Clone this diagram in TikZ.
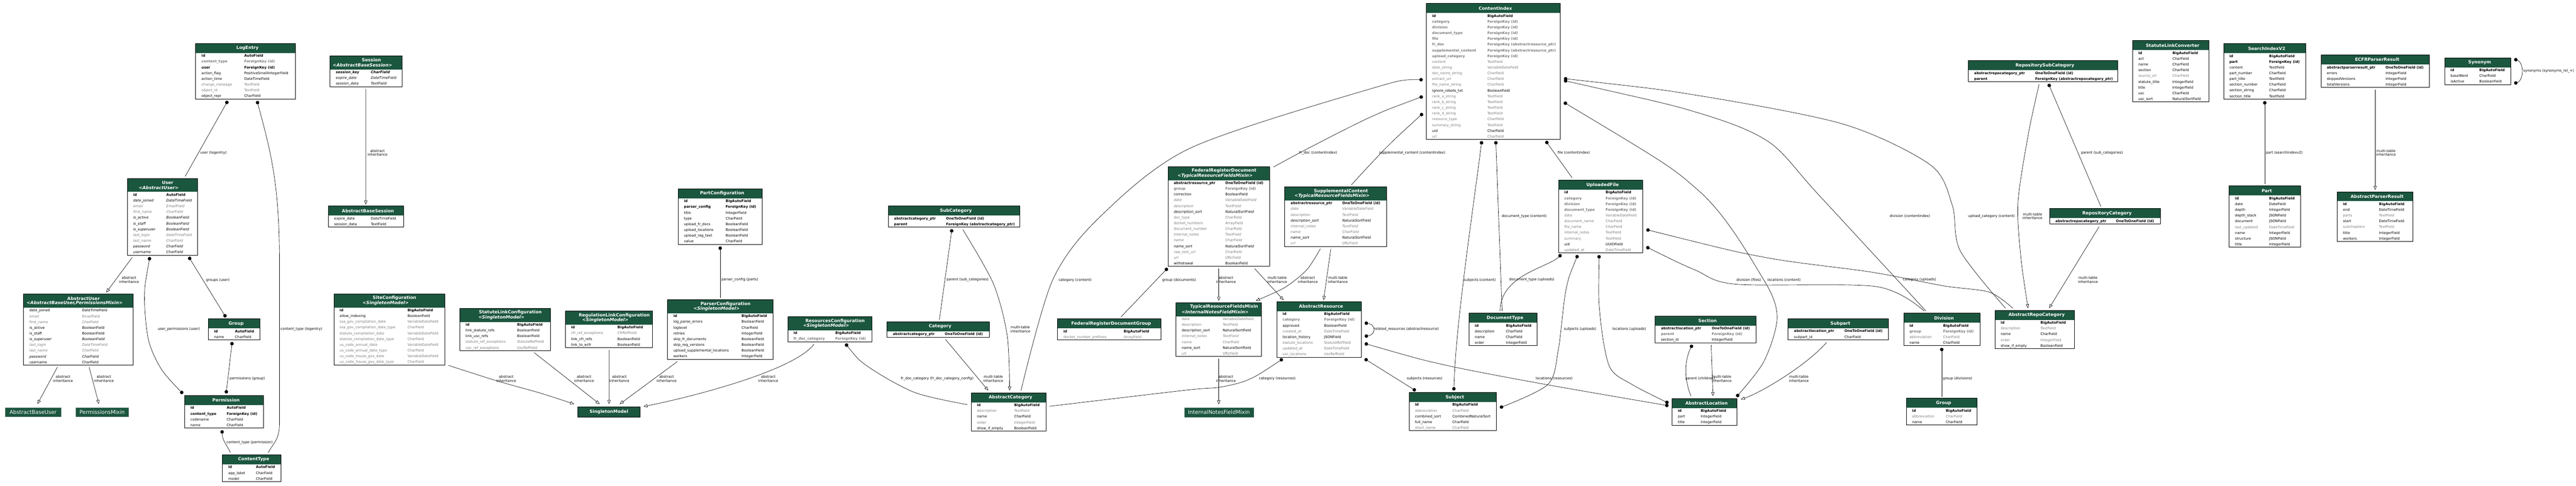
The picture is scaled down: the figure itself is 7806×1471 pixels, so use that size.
\documentclass[tikz,border=0pt]{standalone}
\usepackage{fontspec}
\setmainfont{DejaVu Sans}
\usetikzlibrary{arrows.meta}

\definecolor{hdr}{HTML}{1B563F}
\definecolor{grayf}{HTML}{7B7B7B}
\newcommand{\fieldfont}{\fontsize{10.67}{12}\selectfont}
\newcommand{\headfont}{\fontsize{13.33}{16}\selectfont}
\newcommand{\boxfont}{\fontsize{16}{19}\selectfont}

\tikzset{
  fld/.style={inner sep=0pt, anchor=base west, font=\fieldfont},
  fr/.style={fld},
  fb/.style={fld, font=\fieldfont\bfseries},
  fg/.style={fld, text=grayf},
  fbg/.style={fld, font=\fieldfont\bfseries, text=grayf},
  fi/.style={fld, font=\fieldfont\itshape},
  fig/.style={fld, font=\fieldfont\itshape, text=grayf},
  fbi/.style={fld, font=\fieldfont\bfseries\itshape},
  ttl/.style={inner sep=0pt, text=white, font=\headfont\bfseries},
  tbl/.style={draw=black, line width=1.2pt, inner sep=0pt, outer sep=0pt},
  plainbox/.style={fill=hdr, draw=hdr!60!gray, text=white, font=\boxfont, inner sep=0pt, anchor=north west},
  conn/.style={draw=black, line width=1pt},
  fk/.style={conn, arrows={Circle[length=10.5pt]-}},
  mm/.style={conn, arrows={Circle[length=10.5pt]-Circle[length=10.5pt]}},
  inh/.style={conn, arrows={-Triangle[open, length=12pt, width=9.5pt]}},
  lbl/.style={inner sep=0pt, anchor=west, font=\fieldfont},
  inhl/.style={inner sep=0pt, align=center, font=\fieldfont},
}

% #1 name, #2 x, #3 y, #4 width, #5 type column, #6 title, #7 base, #8 fields
\newcommand{\model}[8]{%
  \def\hh{29}\def\mbase{#7}%
  \ifx\mbase\empty\else\def\hh{41}\fi
  \fill[hdr] (#2,#3) rectangle ++(#4,\hh);
  \ifx\mbase\empty
    \node[ttl] (#1-title) at (#2+#4/2+6,#3+14.5) {#6};
  \else
    \node[ttl] (#1-title) at (#2+#4/2+16,#3+13) {#6};
    \node[ttl, font=\headfont\bfseries\itshape] (#1-base) at (#2+#4/2-11,#3+27.5) {<#7>};
  \fi
  \foreach \fname/\ftype/\fst [count=\n] in {#8}{%
    \node[\fst] (#1-f\n) at (#2+17.5,#3+\hh+\n*17.4-5) {\fname};
    \node[\fst] (#1-t\n) at (#2+#5,#3+\hh+\n*17.4-5) {\ftype};
    \xdef\nrows{\n}}%
  \node[tbl, minimum width=#4pt, minimum height={(\hh+\nrows*17.4)*1pt}, anchor=north west] (#1) at (#2,#3) {};
}

\begin{document}
\begin{tikzpicture}[x=1pt, y=-1pt]
  \useasboundingbox (0,0) rectangle (7806,1471);

  %auth
  \model{le}{593}{131.5}{302}{147}{LogEntry}{}{id/AutoField/fb, content\_type/ForeignKey (id)/fbg, user/ForeignKey (id)/fb, action\_flag/PositiveSmallIntegerField/fr, action\_time/DateTimeField/fr, change\_message/TextField/fg, object\_id/TextField/fg, object\_repr/CharField/fr}
  \model{user}{386}{540.5}{212}{118}{User}{AbstractUser}{id/AutoField/fb, date\_joined/DateTimeField/fi, email/EmailField/fig, first\_name/CharField/fig, is\_active/BooleanField/fi, is\_staff/BooleanField/fi, is\_superuser/BooleanField/fi, last\_login/DateTimeField/fig, last\_name/CharField/fig, password/CharField/fi, username/CharField/fi}
  \model{au}{71.5}{891}{331.5}{177}{AbstractUser}{AbstractBaseUser,PermissionsMixin}{date\_joined/DateTimeField/fr, email/EmailField/fg, first\_name/CharField/fg, is\_active/BooleanField/fr, is\_staff/BooleanField/fr, is\_superuser/BooleanField/fi, last\_login/DateTimeField/fig, last\_name/CharField/fg, password/CharField/fi, username/CharField/fr}
  \model{grp}{631}{966}{157}{81}{Group}{}{id/AutoField/fb, name/CharField/fr}
  \model{perm}{559.3}{1198}{239}{127.6}{Permission}{}{id/AutoField/fb, content\_type/ForeignKey (id)/fb, codename/CharField/fr, name/CharField/fr}
  \model{ct}{674}{1377.6}{177.4}{101.5}{ContentType}{}{id/AutoField/fb, app\_label/CharField/fr, model/CharField/fr}
  \node[plainbox, minimum width=168pt, minimum height=27.5pt] (abu) at (16,1234.5) {AbstractBaseUser};
  \node[plainbox, minimum width=159.4pt, minimum height=27.5pt] (pm) at (229.6,1234.5) {PermissionsMixin};

  %sessions
  \model{ses}{1000}{169}{219}{123.7}{Session}{AbstractBaseSession}{session\_key/CharField/fbi, expire\_date/DateTimeField/fi, session\_data/TextField/fi}
  \model{abs}{995}{624}{228}{128.7}{AbstractBaseSession}{}{expire\_date/DateTimeField/fr, session\_data/TextField/fr}

  %configuration
  \model{site}{1011.5}{890.4}{336}{223.2}{SiteConfiguration}{SingletonModel}{id/BigAutoField/fb, allow\_indexing/BooleanField/fr, ssa\_gov\_compilation\_date/VariableDateField/fg, ssa\_gov\_compilation\_date\_type/CharField/fg, statute\_compilation\_date/VariableDateField/fg, statute\_compilation\_date\_type/CharField/fg, us\_code\_annual\_date/VariableDateField/fg, us\_code\_annual\_date\_type/CharField/fg, us\_code\_house\_gov\_date/VariableDateField/fg, us\_code\_house\_gov\_date\_type/CharField/fg}
  \model{slc}{1393.5}{934}{274}{173.5}{StatuteLinkConfiguration}{SingletonModel}{id/BigAutoField/fb, link\_statute\_refs/BooleanField/fr, link\_usc\_refs/BooleanField/fr, statute\_ref\_exceptions/StatuteRefField/fg, usc\_ref\_exceptions/UscRefField/fg}
  \model{rlc}{1713}{942.2}{264.7}{158.2}{RegulationLinkConfiguration}{SingletonModel}{id/BigAutoField/fb, cfr\_ref\_exceptions/CfrRefField/fg, link\_cfr\_refs/BooleanField/fr, link\_to\_ecfr/BooleanField/fr}
  \node[tbl, fill=hdr, text=white, font=\headfont\bfseries, minimum width=189pt, minimum height=31pt, anchor=north west] (sm) at (1750.6,1232.5) {SingletonModel};
  \model{partc}{2055}{571.7}{255}{143.8}{PartConfiguration}{}{id/BigAutoField/fb, parser\_config/ForeignKey (id)/fb, title/IntegerField/fr, type/CharField/fr, upload\_fr\_docs/BooleanField/fr, upload\_locations/BooleanField/fr, upload\_reg\_text/BooleanField/fr, value/CharField/fr}
  \model{parserc}{2023}{908}{319}{224}{ParserConfiguration}{SingletonModel}{id/BigAutoField/fb, log\_parse\_errors/BooleanField/fr, loglevel/CharField/fr, retries/IntegerField/fr, skip\_fr\_documents/BooleanField/fr, skip\_reg\_versions/BooleanField/fr, upload\_supplemental\_locations/BooleanField/fr, workers/IntegerField/fr}
  \model{resc}{2387}{959.4}{255}{144}{ResourcesConfiguration}{SingletonModel}{id/BigAutoField/fb, fr\_doc\_category/ForeignKey (id)/fbg}

  %categories
  \model{subcat}{2691.6}{623.7}{398}{175.3}{SubCategory}{}{abstractcategory\_ptr/OneToOneField (id)/fb, parent/ForeignKey (abstractcategory\_ptr)/fb}
  \model{cat}{2688}{974.6}{309.5}{174.9}{Category}{}{abstractcategory\_ptr/OneToOneField (id)/fb}
  \model{acat}{2942.8}{1189.8}{226.7}{130.2}{AbstractCategory}{}{id/BigAutoField/fb, description/TextField/fg, name/CharField/fr, order/IntegerField/fg, show\_if\_empty/BooleanField/fr}

  %resources
  \model{frd}{3539.2}{504.7}{308}{173.8}{FederalRegisterDocument}{TypicalResourceFieldsMixin}{abstractresource\_ptr/OneToOneField (id)/fb, group/ForeignKey (id)/fbg, correction/BooleanField/fr, date/VariableDateField/fig, description/TextField/fig, description\_sort/NaturalSortField/fi, doc\_type/CharField/fg, docket\_numbers/ArrayField/fg, document\_number/CharField/fg, internal\_notes/TextField/fig, name/CharField/fig, name\_sort/NaturalSortField/fi, raw\_text\_url/CharField/fg, url/URLField/fig, withdrawal/BooleanField/fr}
  \model{supp}{3893.4}{566}{308}{173.8}{SupplementalContent}{TypicalResourceFieldsMixin}{abstractresource\_ptr/OneToOneField (id)/fb, date/VariableDateField/fig, description/TextField/fig, description\_sort/NaturalSortField/fi, internal\_notes/TextField/fig, name/CharField/fig, name\_sort/NaturalSortField/fi, url/URLField/fig}
  \model{trfm}{3563.4}{916.8}{259.6}{141.6}{TypicalResourceFieldsMixin}{InternalNotesFieldMixin}{date/VariableDateField/fg, description/TextField/fg, description\_sort/NaturalSortField/fr, internal\_notes/TextField/fig, name/CharField/fg, name\_sort/NaturalSortField/fr, url/URLField/fg}
  \model{ares}{3869.2}{913.8}{256}{143}{AbstractResource}{}{id/BigAutoField/fb, category/ForeignKey (id)/fbg, approved/BooleanField/fr, created\_at/DateTimeField/fg, location\_history/JSONField/fr, statute\_locations/StatuteRefField/fg, updated\_at/DateTimeField/fg, usc\_locations/UscRefField/fg}
  \model{frdg}{3204.7}{965.8}{313.2}{200.3}{FederalRegisterDocumentGroup}{}{id/BigAutoField/fb, docket\_number\_prefixes/ArrayField/fg}
  \node[plainbox, minimum width=209pt, minimum height=28pt] (inm) at (3589,1234.7) {InternalNotesFieldMixin};

  %content
  \model{ci}{4322.2}{10.5}{406.2}{184.8}{ContentIndex}{}{id/BigAutoField/fb, category/ForeignKey (id)/fbg, division/ForeignKey (id)/fbg, document\_type/ForeignKey (id)/fbg, file/ForeignKey (id)/fbg, fr\_doc/ForeignKey (abstractresource\_ptr)/fbg, supplemental\_content/ForeignKey (abstractresource\_ptr)/fbg, upload\_category/ForeignKey (id)/fbg, content/TextField/fg, date\_string/VariableDateField/fg, doc\_name\_string/CharField/fg, extract\_url/CharField/fg, file\_name\_string/CharField/fg, ignore\_robots\_txt/BooleanField/fr, rank\_a\_string/TextField/fg, rank\_b\_string/TextField/fg, rank\_c\_string/TextField/fg, rank\_d\_string/TextField/fg, resource\_type/CharField/fg, summary\_string/TextField/fg, uid/CharField/fr, url/CharField/fg}
  \model{uf}{4722.7}{545.5}{255}{142.9}{UploadedFile}{}{id/BigAutoField/fb, category/ForeignKey (id)/fbg, division/ForeignKey (id)/fbg, document\_type/ForeignKey (id)/fbg, date/VariableDateField/fg, document\_name/CharField/fg, file\_name/CharField/fg, internal\_notes/TextField/fg, summary/TextField/fg, uid/UUIDField/fr, updated\_at/DateTimeField/fg}
  \model{dt}{4451.5}{948.7}{206}{111.8}{DocumentType}{}{id/BigAutoField/fb, description/CharField/fr, name/CharField/fr, order/IntegerField/fr}
  \model{subj}{4270.2}{1188.7}{264.8}{130.8}{Subject}{}{id/BigAutoField/fb, abbreviation/CharField/fg, combined\_sort/CombinedNaturalSort/fr, full\_name/CharField/fr, short\_name/CharField/fg}
  \model{sec}{5015.6}{957}{305.4}{171.4}{Section}{}{abstractlocation\_ptr/OneToOneField (id)/fb, parent/ForeignKey (id)/fbg, section\_id/IntegerField/fr}
  \model{aloc}{5066.8}{1207}{196.7}{86.5}{AbstractLocation}{}{id/BigAutoField/fb, part/IntegerField/fr, title/IntegerField/fr}
  \model{subp}{5418.6}{965.5}{304.4}{170.4}{Subpart}{}{abstractlocation\_ptr/OneToOneField (id)/fb, subpart\_id/CharField/fr}
  \model{div}{5768.5}{948.6}{232.4}{119.5}{Division}{}{id/BigAutoField/fb, group/ForeignKey (id)/fbg, abbreviation/CharField/fg, name/CharField/fr}
  \model{rgrp}{5776.5}{1206}{214.5}{119.5}{Group}{}{id/BigAutoField/fb, abbreviation/CharField/fg, name/CharField/fr}
  \model{arc}{6045}{940}{241}{138}{AbstractRepoCategory}{}{id/BigAutoField/fb, description/TextField/fg, name/CharField/fr, order/IntegerField/fg, show\_if\_empty/BooleanField/fr}
  \model{rsc}{5964.6}{183.7}{452}{202.4}{RepositorySubCategory}{}{abstractrepocategory\_ptr/OneToOneField (id)/fb, parent/ForeignKey (abstractrepocategory\_ptr)/fb}
  \model{rc}{6211}{631.9}{335.6}{200.9}{RepositoryCategory}{}{abstractrepocategory\_ptr/OneToOneField (id)/fb}

  %regcore
  \model{slconv}{6462}{123}{231.2}{121}{StatuteLinkConverter}{}{id/BigAutoField/fb, act/CharField/fr, name/CharField/fr, section/CharField/fr, source\_url/CharField/fg, statute\_title/IntegerField/fr, title/IntegerField/fr, usc/CharField/fr, usc\_sort/NaturalSortField/fr}
  \model{siv2}{6738}{132}{249.3}{138}{SearchIndexV2}{}{id/BigAutoField/fb, part/ForeignKey (id)/fb, content/TextField/fr, part\_number/CharField/fr, part\_title/TextField/fr, section\_number/CharField/fr, section\_string/CharField/fr, section\_title/TextField/fr}
  \model{ecfr}{7033}{166.3}{329.2}{195.6}{ECFRParserResult}{}{abstractparserresult\_ptr/OneToOneField (id)/fb, errors/IntegerField/fr, skippedVersions/IntegerField/fr, totalVersions/IntegerField/fr}
  \model{syn}{7408}{175}{200}{104.8}{Synonym}{}{id/BigAutoField/fb, baseWord/CharField/fr, isActive/BooleanField/fr}
  \model{part}{6755}{563.3}{216.2}{121}{Part}{}{id/BigAutoField/fb, date/DateField/fr, depth/IntegerField/fr, depth\_stack/JSONField/fr, document/JSONField/fr, last\_updated/DateTimeField/fg, name/IntegerField/fr, structure/JSONField/fr, title/IntegerField/fr}
  \model{apr}{7082.4}{580.6}{229.6}{126.4}{AbstractParserResult}{}{id/BigAutoField/fb, end/DateTimeField/fr, parts/TextField/fg, start/DateTimeField/fr, subchapters/TextField/fg, title/IntegerField/fr, workers/IntegerField/fr}

  %auth edges
  \draw[fk] ([shift={(97,6)}]le.south west) -- ([shift={(175,-6)}]user.north west);
  \draw[fk] ([shift={(186,6)}]le.south west) .. controls +(40,150) and +(0,-250) .. (847,800) -- (847,1280) .. controls +(0,50) and +(20,-35) .. ([shift={(138.5,-6)}]ct.north west);
  \draw[inh] ([shift={(14.5,7)}]user.south west) -- ([shift={(250.5,-5)}]au.north west);
  \draw[mm] plot[smooth] coordinates {([shift={(68,5.5)}]user.south west) (438,900) (450,1030) (490,1120) ([shift={(-5,-5.5)}]perm.north west)};
  \draw[mm] ([shift={(186,5.5)}]user.south west) -- ([shift={(53.5,-5)}]grp.north west);
  \draw[mm] ([shift={(72.5,6)}]grp.south west) -- ([shift={(126,-6)}]perm.north west);
  \draw[fk] ([shift={(113.7,6.5)}]perm.south west) .. controls +(0,30) and +(-12,-25) .. ([shift={(24.3,-6.6)}]ct.north west);
  \draw[inh] ([shift={(102.5,6)}]au.south west) -- ([shift={(97.5,-10.8)}]abu.north west);
  \draw[inh] ([shift={(198.5,6)}]au.south west) -- ([shift={(70,-10.8)}]pm.north west);
  \node[lbl] (l-le-user) at (607,463) {user (logentry)};
  \node[lbl] (l-le-ct) at (850,997) {content\_type (logentry)};
  \node[inhl] (l-user-au) at (391,848) {abstract\\inheritance};
  \node[lbl] (l-user-perm) at (478,997) {user\_permissions (user)};
  \node[lbl] (l-user-grp) at (624,848) {groups (user)};
  \node[lbl] (l-grp-perm) at (696,1147) {permissions (group)};
  \node[lbl] (l-perm-ct) at (686,1341) {content\_type (permission)};
  \node[inhl] (l-au-abu) at (191,1147) {abstract\\inheritance};
  \node[inhl] (l-au-pm) at (315,1147) {abstract\\inheritance};

  %session edges
  \draw[inh] ([shift={(-1,7)}]ses.south) -- ([shift={(113.4,-4)}]abs.north west);
  \node[inhl] (l-ses-abs) at (1144,463) {abstract\\inheritance};

  %configuration edges
  \draw[inh] plot[smooth] coordinates {([shift={(11.5,1.5)}]site.south east) (1510,1155) (1638,1191) ([shift={(-10.8,-8.5)}]sm.north west)};
  \draw[inh] ([shift={(225,6)}]slc.south west) -- ([shift={(66.4,-8.5)}]sm.north west);
  \draw[inh] ([shift={(132.7,7)}]rlc.south west) -- ([shift={(95,-8.5)}]sm.north west);
  \draw[inh] ([shift={(29.6,7)}]parserc.south west) -- ([shift={(127.4,-8.5)}]sm.north west);
  \draw[inh] ([shift={(79.5,7.5)}]resc.south west) .. controls +(-60,80) and +(150,-30) .. ([shift={(10.4,-1)}]sm.north east);
  \draw[fk] ([shift={(127.4,6.6)}]partc.south west) -- ([shift={(159.4,-5.6)}]parserc.north west);
  \draw[fk] plot[smooth] coordinates {([shift={(175,6)}]resc.south west) (2631,1111) (2772,1189) ([shift={(-11,36)}]acat.north west)};
  \node[inhl] (l-site-sm) at (1534,1147) {abstract\\inheritance};
  \node[inhl] (l-slc-sm) at (1770,1147) {abstract\\inheritance};
  \node[inhl] (l-rlc-sm) at (1877,1147) {abstract\\inheritance};
  \node[inhl] (l-parserc-sm) at (2020,1147) {abstract\\inheritance};
  \node[inhl] (l-resc-sm) at (2328,1147) {abstract\\inheritance};
  \node[lbl] (l-partc-parserc) at (2186,848) {parser\_config (parts)};
  \node[lbl] (l-resc-acat) at (2729.6,1147) {fr\_doc\_category (fr\_doc\_category\_config)};

  %category edges
  \draw[fk] ([shift={(193,6.5)}]subcat.south west) -- ([shift={(158.7,-6.8)}]cat.north west);
  \draw[inh] plot[smooth] coordinates {([shift={(226,8)}]subcat.south west) (3010,859) (3052,1016) ([shift={(116.5,-6.8)}]acat.north west)};
  \draw[inh] ([shift={(177,7)}]cat.south west) -- ([shift={(52,-6.8)}]acat.north west);
  \node[lbl] (l-subcat-cat) at (2868.5,848) {parent (sub\_categories)};
  \node[inhl] (l-subcat-acat) at (3092,997) {multi-table\\inheritance};
  \node[inhl] (l-cat-acat) at (3010,1147) {multi-table\\inheritance};

  %resource edges
  \draw[fk] ([shift={(-1,5.5)}]frd.south west) -- ([shift={(192.3,-5.8)}]frdg.north west);
  \draw[inh] ([shift={(154,6.8)}]frd.south west) -- ([shift={(129.8,-5.8)}]trfm.north west);
  \draw[inh] ([shift={(262.5,6.8)}]frd.south west) -- ([shift={(20.5,-4.6)}]ares.north west);
  \draw[inh] plot[smooth] coordinates {([shift={(107.6,7.3)}]supp.south west) (3960,817) (3893,871) ([shift={(242,-5.8)}]trfm.north west)};
  \draw[inh] ([shift={(139.4,7.3)}]supp.south west) -- ([shift={(141.6,-4.6)}]ares.north west);
  \draw[inh] ([shift={(129.8,7)}]trfm.south west) -- ([shift={(104.2,-9.7)}]inm.north west);
  \draw[fk] plot[smooth] coordinates {([shift={(18,5)}]ares.south west) (3783,1150) (3695,1173) (3593,1182) ([shift={(10.3,41)}]acat.north east)};
  \draw[mm] ([shift={(10,64.5)}]ares.north east) .. controls +(35,5) and +(35,-5) .. ([shift={(10,105)}]ares.north east);
  \draw[mm] ([shift={(10,173)}]ares.north east) -- ([shift={(20,-5)}]subj.north west);
  \draw[mm] plot[smooth] coordinates {([shift={(10,126.7)}]ares.north east) (4380,1106) (4686,1165) ([shift={(-10.8,22)}]aloc.north west)};
  \node[lbl] (l-frd-frdg) at (3521.6,848) {group (documents)};
  \node[inhl] (l-frd-trfm) at (3715,848) {abstract\\inheritance};
  \node[inhl] (l-frd-ares) at (3870,848) {multi-table\\inheritance};
  \node[inhl] (l-supp-trfm) at (3963,848) {abstract\\inheritance};
  \node[inhl] (l-supp-ares) at (4054,848) {multi-table\\inheritance};
  \node[inhl] (l-trfm-inm) at (3715,1147) {abstract\\inheritance};
  \node[lbl] (l-ares-acat) at (3815,1147) {category (resources)};
  \node[lbl] (l-ares-ares) at (4163,997.3) {related\_resources (abstractresource)};
  \node[lbl] (l-ares-subj) at (4263,1147) {subjects (resources)};
  \node[lbl] (l-ares-aloc) at (4653.6,1147) {locations (resources)};

  %content index edges
  \draw[fk] plot[smooth] coordinates {([shift={(-10.7,231)}]ci.north west) (4150,270) (3604,450) (3330,660) (3189,850) ([shift={(151,-6.5)}]acat.north west)};
  \draw[fk] plot[smooth] coordinates {([shift={(-10.7,281.5)}]ci.north west) (4150,356) (3963,450) ([shift={(11.8,1.3)}]frd.north east)};
  \draw[fk] plot[smooth] coordinates {([shift={(-10.7,333)}]ci.north west) (4200,448) ([shift={(201.6,-6)}]supp.north west)};
  \draw[mm] ([shift={(167.8,5)}]ci.south west) .. controls +(-25,200) and +(5,-200) .. ([shift={(135.3,-5.7)}]subj.north west);
  \draw[fk] ([shift={(210.5,5)}]ci.south west) -- ([shift={(100.3,-6.2)}]dt.north west);
  \draw[fk] ([shift={(362,5)}]ci.south west) -- ([shift={(41.3,-6.8)}]uf.north west);
  \draw[fk] plot[smooth] coordinates {([shift={(10.6,227.5)}]ci.north east) (5150,290) (5589,377) (5850,500) (5916,622) (5940,760) ([shift={(32,-6.5)}]arc.north west)};
  \draw[fk] plot[smooth] coordinates {([shift={(10.6,233.5)}]ci.north east) (5150,343) (5360,430) (5509,588) ([shift={(67.5,-6.6)}]div.north west)};
  \draw[mm] plot[smooth] coordinates {([shift={(10.6,299.5)}]ci.north east) (5150,580) (5340,840) (5385,960) (5345,1095) ([shift={(-1.5,-5)}]aloc.north east)};
  \node[lbl] (l-ci-acat) at (3207.7,848) {category (content)};
  \node[lbl] (l-ci-frd) at (3937,463) {fr\_doc (contentindex)};
  \node[lbl] (l-ci-supp) at (4178.7,463) {supplemental\_content (contentindex)};
  \node[lbl] (l-ci-subj) at (4435.5,848) {subjects (content)};
  \node[lbl] (l-ci-dt) at (4550.5,655) {document\_type (content)};
  \node[lbl] (l-ci-uf) at (4719.5,463) {file (contentindex)};
  \node[lbl] (l-ci-arc) at (5963.8,654.6) {upload\_category (content)};
  \node[lbl] (l-ci-div) at (5726,654.6) {division (contentindex)};
  \node[lbl] (l-ci-aloc) at (5355.6,847.5) {locations (content)};

  %upload edges
  \draw[fk] ([shift={(8.3,5)}]uf.south west) .. controls +(-40,40) and +(0,-110) .. ([shift={(94.2,-6.2)}]dt.north west);
  \draw[mm] plot[smooth] coordinates {([shift={(58.3,6.6)}]uf.south west) (4745,880) (4722,1060) (4690,1165) ([shift={(10,46.3)}]subj.north east)};
  \draw[mm] plot[smooth] coordinates {([shift={(123,6.6)}]uf.south west) (4848,950) (4877,1110) (4946,1165) ([shift={(-10.8,14)}]aloc.north west)};
  \draw[fk] plot[smooth] coordinates {([shift={(11,150)}]uf.north east) (5350,780) (5669,824) (5890,866) (6028,885) ([shift={(54,-6.5)}]arc.north west)};
  \draw[fk] plot[smooth] coordinates {([shift={(11,202.5)}]uf.north east) (5137,818) (5260,861) (5685,868) ([shift={(62,-6.6)}]div.north west)};
  \node[lbl] (l-uf-dt) at (4573,848) {document\_type (uploads)};
  \node[lbl] (l-uf-subj) at (4739,997) {subjects (uploads)};
  \node[lbl] (l-uf-aloc) at (4886,997) {locations (uploads)};
  \node[lbl] (l-uf-arc) at (5766,847.5) {category (uploads)};
  \node[lbl] (l-uf-div) at (5262,848) {division (files)};

  %location edges
  \draw[fk] ([shift={(112.4,6.3)}]sec.south west) .. controls +(-25,50) and +(-20,-50) .. ([shift={(57.2,-7)}]aloc.north west);
  \draw[inh] ([shift={(169.8,7)}]sec.south west) -- ([shift={(124,-7)}]aloc.north west);
  \draw[inh] ([shift={(116.4,7.7)}]subp.south west) .. controls +(-60,70) and +(60,-20) .. ([shift={(11.5,3)}]aloc.north east);
  \draw[fk] ([shift={(115.5,6.3)}]div.south west) -- ([shift={(107.5,-4.6)}]rgrp.north west);
  \node[lbl] (l-sec-aloc) at (5107,1147) {parent (children)};
  \node[inhl] (l-sec-aloc2) at (5217,1147) {multi-table\\inheritance};
  \node[inhl] (l-subp-aloc) at (5451,1147) {multi-table\\inheritance};
  \node[lbl] (l-div-rgrp) at (5887,1147) {group (divisions)};

  %repository edges
  \draw[fk] ([shift={(243,6.5)}]rsc.south west) -- ([shift={(155.4,-6)}]rc.north west);
  \draw[inh] plot[smooth] coordinates {([shift={(214.4,7.8)}]rsc.south west) (6147,403) (6115,613) (6124,782) ([shift={(100.6,-6.5)}]arc.north west)};
  \draw[inh] ([shift={(149.8,8.3)}]rc.south west) -- ([shift={(164.4,-6.5)}]arc.north west);
  \node[lbl] (l-rsc-rc) at (6305.8,462.5) {parent (sub\_categories)};
  \node[inhl] (l-rsc-arc) at (6159,654.6) {multi-table\\inheritance};
  \node[inhl] (l-rc-arc) at (6327,847.5) {multi-table\\inheritance};

  %regcore edges
  \draw[fk] ([shift={(124.7,6)}]siv2.south west) -- ([shift={(107.7,-5.6)}]part.north west);
  \draw[inh] ([shift={(164.2,7.5)}]ecfr.south west) -- ([shift={(114.8,-5)}]apr.north west);
  \draw[mm] ([shift={(10.5,4)}]syn.north east) .. controls +(30,10) and +(30,-10) .. ([shift={(10.5,78)}]syn.north east);
  \node[lbl] (l-siv2-part) at (6866,463.3) {part (searchindexv2)};
  \node[inhl] (l-ecfr-apr) at (7230,463) {multi-table\\inheritance};
  \node[lbl] (l-syn-syn) at (7646,215.3) {synonyms (synonyms\_rel\_+)};

\end{tikzpicture}
\end{document}
